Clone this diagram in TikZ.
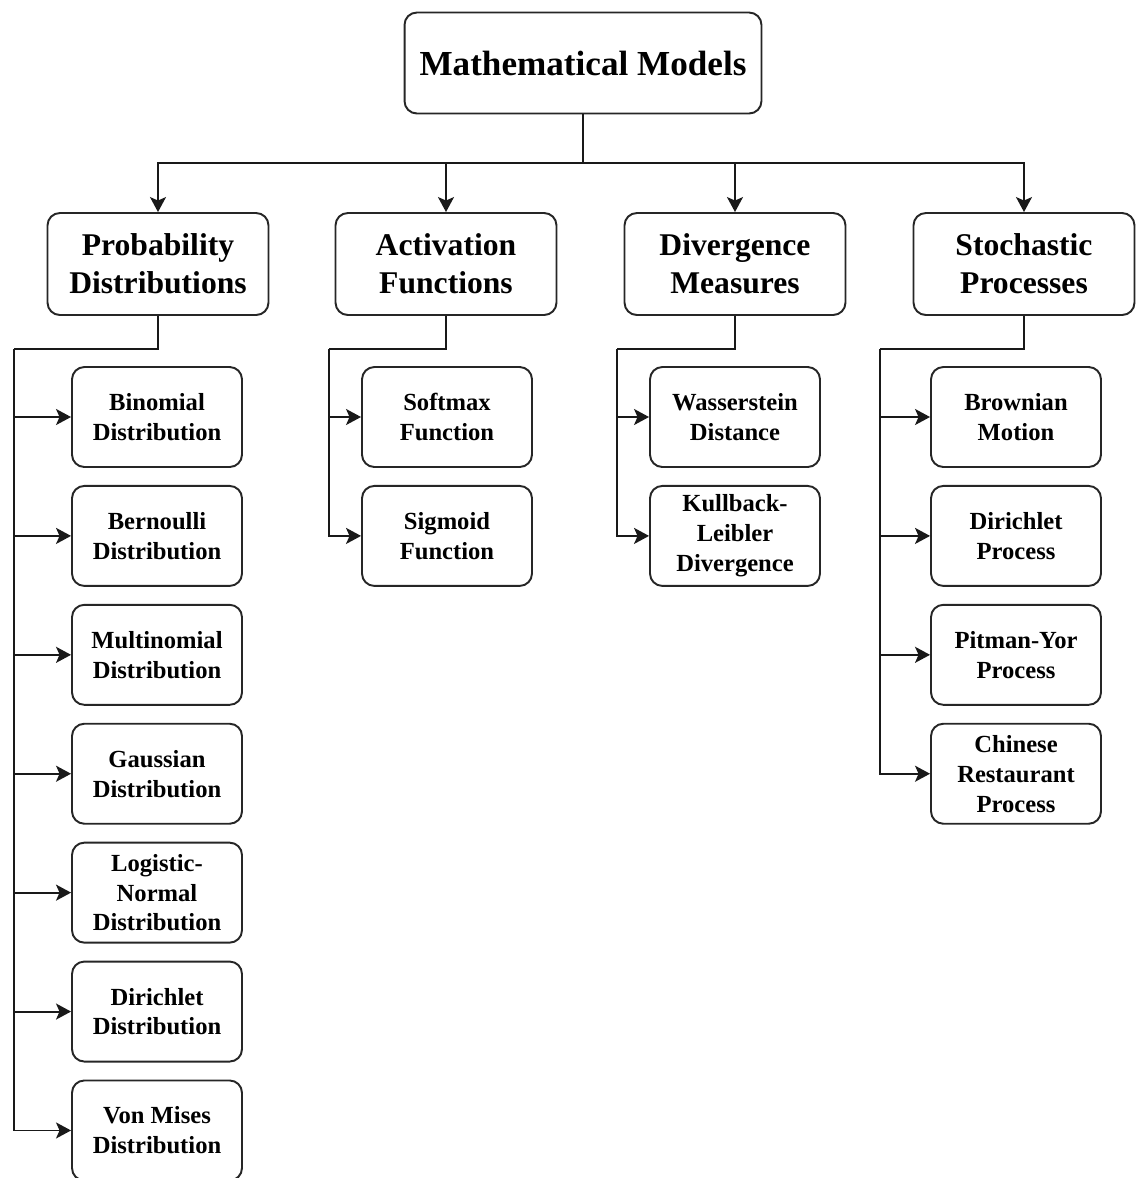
\documentclass[tikz,border=0pt]{standalone}
\usepackage{fontspec}
\setmainfont{Liberation Serif}
\usetikzlibrary{arrows.meta, positioning}

\begin{document}
\begin{tikzpicture}[x=0.02cm, y=-0.02cm,
        base/.style={rectangle, draw=black!85, line width=1.1pt, rounded corners=7pt,
                  fill=white, align=center, font=\bfseries},
        top/.style={base, minimum width=7.14cm, minimum height=2.02cm,
                  font=\bfseries\fontsize{20}{24}\selectfont},
        cat/.style={base, minimum width=4.42cm, minimum height=2.04cm,
                  font=\bfseries\fontsize{18}{21.5}\selectfont},
        leaf/.style={base, minimum width=3.4cm, minimum height=2cm,
                  font=\bfseries\fontsize{14}{17}\selectfont},
        arr/.style={-{Stealth[length=3mm,width=3.2mm,inset=0.7mm]}, line width=1.1pt, black!90},
        ln/.style={line width=1.1pt, black!90},
        node distance=0.34cm]
      \useasboundingbox (0,0) rectangle (1136,1178);

      % root and categories
      \node[top] (mm) at (583,63) {Mathematical Models};
      \node[cat] (prob) at (158,264) {Probability\\Distributions};
      \node[cat] (act) at (446,264) {Activation\\Functions};
      \node[cat] (div) at (735,264) {Divergence\\Measures};
      \node[cat] (sto) at (1024,264) {Stochastic\\Processes};

      % probability distributions
      \node[leaf] (binom) at (157,417) {Binomial\\Distribution};
      \node[leaf, below=of binom] (bern) {Bernoulli\\Distribution};
      \node[leaf, below=of bern] (multi) {Multinomial\\Distribution};
      \node[leaf, below=of multi] (gauss) {Gaussian\\Distribution};
      \node[leaf, below=of gauss] (logn) {Logistic-\\Normal\\Distribution};
      \node[leaf, below=of logn] (dirdist) {Dirichlet\\Distribution};
      \node[leaf, below=of dirdist] (vonm) {Von Mises\\Distribution};

      % activation functions
      \node[leaf] (soft) at (447,417) {Softmax\\Function};
      \node[leaf, below=of soft] (sigm) {Sigmoid\\Function};

      % divergence measures
      \node[leaf] (wass) at (735,417) {Wasserstein\\Distance};
      \node[leaf, below=of wass] (kl) {Kullback-\\Leibler\\Divergence};

      % stochastic processes
      \node[leaf] (brown) at (1016,417) {Brownian\\Motion};
      \node[leaf, below=of brown] (dirproc) {Dirichlet\\Process};
      \node[leaf, below=of dirproc] (pityor) {Pitman-Yor\\Process};
      \node[leaf, below=of pityor] (crp) {Chinese\\Restaurant\\Process};

      % connectors
      \coordinate (bus) at (583,163);
      \draw[ln] (mm) -- (bus);
      \draw[arr] (bus) -| (prob);
      \draw[arr] (bus) -| (act);
      \draw[arr] (bus) -| (div);
      \draw[arr] (bus) -| (sto);

      \coordinate (pl) at (14,349);
      \draw[ln] (prob) |- (pl);
      \draw[arr] (pl) |- (binom);
      \draw[arr] (pl) |- (bern);
      \draw[arr] (pl) |- (multi);
      \draw[arr] (pl) |- (gauss);
      \draw[arr] (pl) |- (logn);
      \draw[arr] (pl) |- (dirdist);
      \draw[arr] (pl) |- (vonm);

      \coordinate (al) at (329,349);
      \draw[ln] (act) |- (al);
      \draw[arr] (al) |- (soft);
      \draw[arr] (al) |- (sigm);

      \coordinate (dl) at (617,349);
      \draw[ln] (div) |- (dl);
      \draw[arr] (dl) |- (wass);
      \draw[arr] (dl) |- (kl);

      \coordinate (sl) at (880,349);
      \draw[ln] (sto) |- (sl);
      \draw[arr] (sl) |- (brown);
      \draw[arr] (sl) |- (dirproc);
      \draw[arr] (sl) |- (pityor);
      \draw[arr] (sl) |- (crp);
    \end{tikzpicture}
\end{document}
